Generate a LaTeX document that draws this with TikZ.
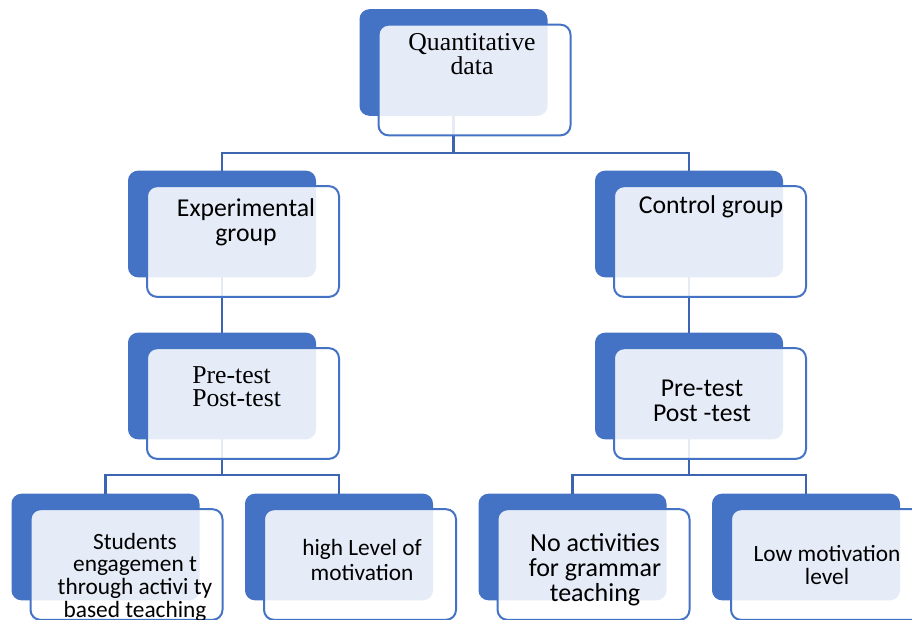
\documentclass[tikz,border=0pt]{standalone}
\usepackage{fontspec}
\setmainfont{Carlito}
\newfontfamily\timesface{Liberation Serif}
\definecolor{boxblue}{HTML}{4472C4}
\definecolor{linkblue}{HTML}{3C64B1}

\begin{document}
\begin{tikzpicture}[
    x = 0.75pt,
    y = -0.75pt,
    back/.style  = {rectangle, rounded corners=7.5pt, fill=boxblue,
              minimum width=141pt, minimum height=80pt,
              inner sep=0pt, outer sep=0pt},
    front/.style = {rectangle, rounded corners=7.5pt, draw=boxblue,
              line width=1.5pt, fill=white, fill opacity=0.87,
              minimum width=144pt, minimum height=83pt,
              inner sep=0pt, outer sep=0pt},
    link/.style  = {draw=linkblue, line width=2pt},
    txt/.style   = {align=center, inner sep=0pt, text=black,
              font=\fontsize{19.3}{18.75}\selectfont},
    small/.style = {txt, font=\fontsize{17.5}{17}\selectfont},
    ]

\useasboundingbox (0,0) rectangle (912,619);
\clip (0,0) rectangle (912,619);

% back boxes
\node[back] (topB) at (453.5,62.5){};
\node[back] (expB) at (222,224){};
\node[back] (ctlB) at (689,224){};
\node[back] (preLB) at (222,386){};
\node[back] (preRB) at (689,386){};
\node[back] (actB) at (105.5,547){};
\node[back] (highB) at (339,547){};
\node[back] (noactB) at (572.5,547){};
\node[back] (lowB) at (806,547){};

% connectors
\coordinate (barTop) at (0,153);
\coordinate (barLow) at (0,475);
\draw [link] (topB.south) -- (topB.south |- barTop);
\draw [link] (expB.north) |- (ctlB.north |- barTop) -- (ctlB.north);
\draw [link] (expB.south) -- (preLB.north);
\draw [link] (ctlB.south) -- (preRB.north);
\draw [link] (preLB.south) -- (preLB.south |- barLow);
\draw [link] (actB.north) |- (highB.north |- barLow) -- (highB.north);
\draw [link] (preRB.south) -- (preRB.south |- barLow);
\draw [link] (noactB.north) |- (lowB.north |- barLow) -- (lowB.north);

% front boxes
\node[front] (topF) at ([shift={(21,17.5)}]topB.center){};
\node[front] (expF) at ([shift={(21,17.5)}]expB.center){};
\node[front] (ctlF) at ([shift={(21,17.5)}]ctlB.center){};
\node[front] (preLF) at ([shift={(21,17.5)}]preLB.center){};
\node[front] (preRF) at ([shift={(21,17.5)}]preRB.center){};
\node[front] (actF) at ([shift={(21,17.5)}]actB.center){};
\node[front] (highF) at ([shift={(21,17.5)}]highB.center){};
\node[front] (noactF) at ([shift={(21,17.5)}]noactB.center){};
\node[front] (lowF) at ([shift={(21,17.5)}]lowB.center){};

% labels
\node[txt, font=\timesface\fontsize{19.3}{16.5}\selectfont] (topT) at (472,54) {Quantitative\\data};
\node[txt] (expT) at (246,222.5) {Experimental\\group};
\node[txt] (ctlT) at (711,207) {Control group};
\node[txt, align=left, anchor=west, font=\timesface\fontsize{19.3}{17.25}\selectfont] (preLT) at (192,386.5) {Pre-test\\Post-test};
\node[txt] (preRT) at (702,401) {Pre-test\\Post -test};
\node[small] (actT) at (135,577) {Students\\engagemen t\\through activi ty\\based teaching};
\node[small, font=\fontsize{17.5}{18.75}\selectfont] (highT) at (362,559.5) {high Level of\\motivation};
\node[txt, font=\fontsize{19.5}{18.75}\selectfont] (noactT) at (595,569.5) {No activities\\for grammar\\teaching};
\node[small, font=\fontsize{17.5}{17.25}\selectfont] (lowT) at (827,564.5) {Low motivation\\level};

\end{tikzpicture}
\end{document}
